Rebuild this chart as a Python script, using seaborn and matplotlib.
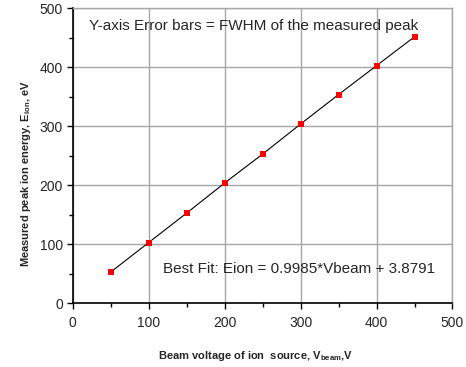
import matplotlib
matplotlib.use("Agg")
import matplotlib.pyplot as plt
import seaborn as sns
import pandas as pd
from matplotlib.ticker import MultipleLocator

vbeam = [50, 100, 150, 200, 250, 300, 350, 400, 450]
eion = [53, 103, 153, 204, 253, 304, 354, 403, 452]
xticks = [0, 100, 200, 300, 400, 500]
yticks = [0, 100, 200, 300, 400, 500]

df = pd.DataFrame({"Vbeam": vbeam, "Eion": eion})

sns.set_style("white")
plt.rcParams['font.family'] = ['Liberation Sans', 'DejaVu Sans']
plt.rcParams['mathtext.fontset'] = 'custom'
plt.rcParams['mathtext.rm'] = 'Liberation Sans'
plt.rcParams['mathtext.bf'] = 'Liberation Sans:bold'

fig = plt.figure(figsize=(4.66, 3.67), dpi=100)
ax = fig.add_axes([0.156, 0.1735, 0.815, 0.8035])

sns.lineplot(data=df, x="Vbeam", y="Eion", ax=ax, color="black", linewidth=0.8, zorder=3)
sns.scatterplot(data=df, x="Vbeam", y="Eion", ax=ax, marker="s", color="#ff0000",
                s=22, edgecolor="#ff0000", linewidth=0, zorder=4)

ax.set_xlim(0, 500)
ax.set_ylim(0, 500)
ax.set_xticks(xticks)
ax.set_yticks(yticks)
ax.xaxis.set_minor_locator(MultipleLocator(50))
ax.yaxis.set_minor_locator(MultipleLocator(50))
ax.grid(True, which="major", color="#a6a6a6", linewidth=1.0)
ax.set_axisbelow(True)
ax.tick_params(axis="both", which="both", bottom=True, left=True, top=False, right=False)
ax.tick_params(axis="both", which="major", direction="out", length=4, width=1, labelsize=10, color="black")
ax.tick_params(axis="both", which="minor", direction="out", length=3, width=1, color="black")
ax.tick_params(axis="x", which="major", pad=5)
ax.tick_params(axis="y", which="major", pad=3)
for s in ["left", "bottom"]:
    ax.spines[s].set_color("black")
    ax.spines[s].set_linewidth(1.2)
for s in ["top", "right"]:
    ax.spines[s].set_color("#a6a6a6")
    ax.spines[s].set_linewidth(1.0)

ax.set_xlabel(r"Beam voltage of ion  source, V$_{\mathbf{beam}}$,V", fontsize=8, fontweight="bold", va="top")
ax.set_ylabel(r"Measured peak ion energy, E$_{\mathbf{ion}}$, eV", fontsize=8, fontweight="bold")
ax.xaxis.set_label_coords(0.481, -0.155)
ax.yaxis.set_label_coords(-0.105, 0.44)

ax.text(21, 470, "Y-axis Error bars = FWHM of the measured peak", fontsize=11, va="center", ha="left")
ax.text(119, 58, "Best Fit: Eion = 0.9985*Vbeam + 3.8791", fontsize=11, va="center", ha="left")

fig.savefig("out.png", dpi=100)
